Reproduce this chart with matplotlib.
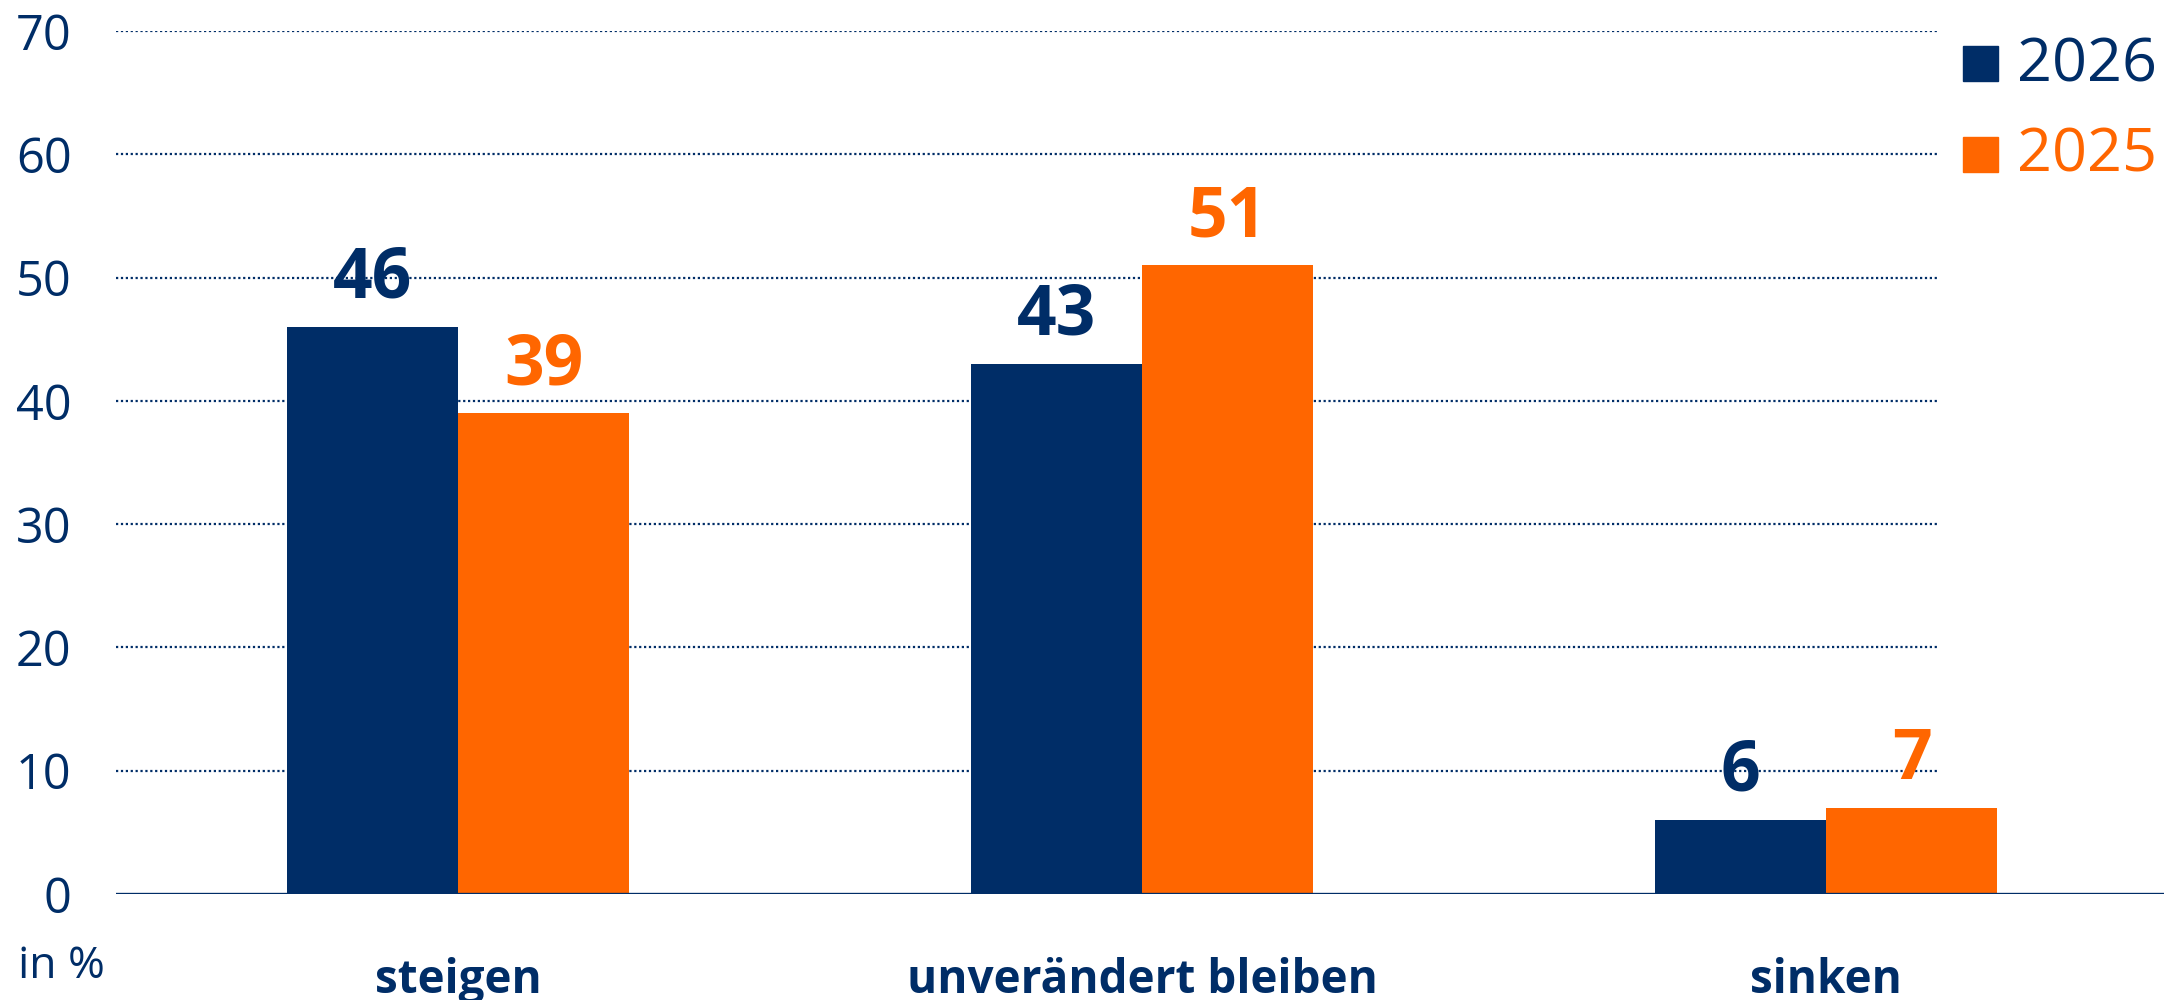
import matplotlib
matplotlib.use("Agg")
import matplotlib.pyplot as plt
from matplotlib.patches import Rectangle
import numpy as np

categories = ["steigen", "unverändert bleiben", "sinken"]
years = ["2026", "2025"]
values_2026 = [46, 43, 6]
values_2025 = [39, 51, 7]
yticks = [0, 10, 20, 30, 40, 50, 60, 70]

NAVY = "#002D67"
ORANGE = "#FF6600"

plt.rcParams['font.family'] = ['Open Sans', 'DejaVu Sans']

W, H = 2164, 1000
fig = plt.figure(figsize=(W / 100, H / 100), dpi=100)
# axes: x from px 116 to the right edge, y from px 894 (0) up to px 31 (70)
ax = fig.add_axes([116 / W, 1 - 894 / H, 1 - 116 / W, (894 - 31) / H])

x = np.arange(len(categories))
w = 0.25
ax.bar(x - w / 2, values_2026, width=w, color=NAVY, zorder=3)
ax.bar(x + w / 2, values_2025, width=w, color=ORANGE, zorder=3)

for xs, vals, col in [(x - w / 2, values_2026, NAVY), (x + w / 2, values_2025, ORANGE)]:
    for xi, v in zip(xs, vals):
        ax.annotate(str(v), (xi, v), xytext=(0, 21), textcoords="offset points",
                    ha="center", va="baseline", fontsize=50, fontweight="bold", color=col)

ax.set_xlim(-0.5, 2.494)
ax.set_ylim(0, 70)

# dotted grid, stops short of the legend
ax.hlines(yticks[1:], -0.5, 2.164, colors=NAVY, linestyles=(0, (1, 1.2)), linewidth=1.6, zorder=1)
ax.axhline(0, color=NAVY, linewidth=2.4, zorder=4)

for s in ax.spines.values():
    s.set_visible(False)
ax.set_xticks([])
ax.set_yticks(yticks)
ax.set_yticklabels([str(t) for t in yticks], fontsize=35, color=NAVY)
ax.tick_params(axis="y", length=0, pad=32)

# category names below the baseline (baseline of text at px 993)
for xi, c in zip(x, categories):
    ax.text(xi, -(993 - 894) / (894 - 31), c, transform=ax.get_xaxis_transform(),
            ha="center", va="baseline", fontsize=33, fontweight="bold", color=NAVY)

fig.text(18 / W, 1 - 978 / H, "in %", ha="left", va="baseline", fontsize=32, color=NAVY)

# legend
for i, (yr, col) in enumerate(zip(years, [NAVY, ORANGE])):
    base = 81 + 91 * i
    fig.patches.append(Rectangle((1963 / W, 1 - base / H), 35 / W, 35 / H,
                                 transform=fig.transFigure, color=col))
    fig.text(2017 / W, 1 - base / H, yr, ha="left", va="baseline", fontsize=44, color=col)

fig.savefig("out.png", dpi=100)
